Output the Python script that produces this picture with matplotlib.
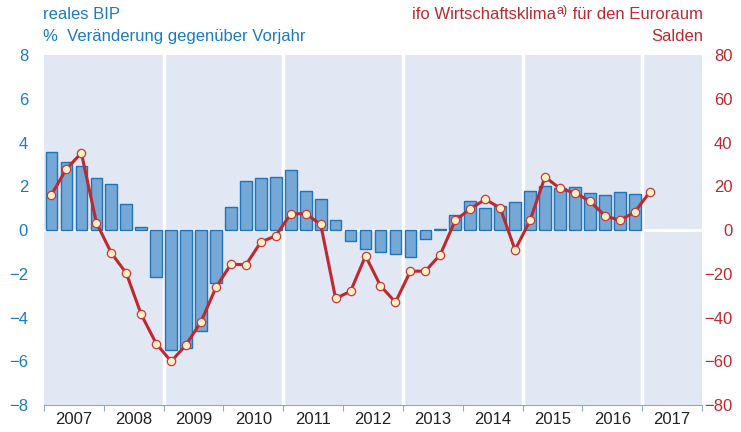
import matplotlib.pyplot as plt
import numpy as np

plt.rcParams['font.family'] = ['Liberation Sans', 'DejaVu Sans']

# reales BIP, % ggü. Vorjahr, Quartale 2007Q1 - 2016Q4
bip = [3.55, 3.13, 2.95, 2.4, 2.12, 1.17, 0.15, -2.14,
       -5.5, -5.4, -4.6, -2.4, 1.05, 2.25, 2.37, 2.42,
       2.75, 1.77, 1.4, 0.47, -0.51, -0.85, -1.02, -1.1,
       -1.21, -0.43, 0.07, 0.71, 1.33, 1.03, 1.08, 1.3,
       1.8, 2.0, 1.93, 1.99, 1.68, 1.62, 1.76, 1.65]

# ifo Wirtschaftsklima Euroraum, Salden, 2007Q1 - 2017Q1
ifo = [16.2, 28, 35.2, 3.4, -10.5, -19.7, -38.6, -51.9,
       -60.1, -52.5, -41.9, -26.2, -15.6, -15.9, -5.5, -2.6,
       7.4, 7.5, 2.6, -31.3, -28, -11.8, -25.5, -33,
       -18.8, -18.8, -11.2, 4.4, 9.7, 14, 10.2, -9.1,
       4.4, 24.3, 19, 17, 13.2, 6.6, 4.4, 8.2, 17.3]

years = [str(y) for y in range(2007, 2018)]

blue = '#1a7bc4'
red = '#c0282e'
bg = '#e1e8f4'
fs = 12

fig = plt.figure(figsize=(7.41, 4.32), dpi=100)
ax = fig.add_axes([0.0594, 0.0625, 0.888, 0.81])
ax.set_facecolor(bg)

xb = np.arange(len(bip)) + 0.5
ax.bar(xb, bip, width=0.78, color='#76a8d6', edgecolor='#1f74bb', linewidth=1.0, zorder=2)

ax.axhline(0, color='white', lw=2, zorder=1)
for xv in range(8, 45, 8):
    ax.axvline(xv, color='white', lw=2.5, zorder=1)

ax.set_xlim(0, 44)
ax.set_ylim(-8, 8)
ax.set_yticks(range(-8, 9, 2))
ax.tick_params(axis='y', length=0, colors=blue, labelsize=fs, pad=11.5)

ax.set_xticks(range(0, 45, 4))
ax.set_xticklabels([])
ax.set_xticks(np.arange(2, 44, 4), minor=True)
ax.set_xticklabels(years, minor=True)
ax.tick_params(axis='x', which='major', direction='out', length=4, color='#8fa9cc')
ax.tick_params(axis='x', which='minor', length=0, labelsize=fs, colors='#222222', pad=5)

for s in ['top', 'left', 'right']:
    ax.spines[s].set_visible(False)
ax.spines['bottom'].set_color('#8fa9cc')

ax2 = ax.twinx()
xl = np.arange(len(ifo)) + 0.5
ax2.plot(xl, ifo, color=red, lw=2.2, marker='o', markersize=6,
         markerfacecolor='#fdf0c4', markeredgecolor='#c8383c', markeredgewidth=0.9, zorder=3)
ax2.set_ylim(-80, 80)
ax2.set_yticks(range(-80, 81, 20))
ax2.tick_params(axis='y', length=0, colors=red, labelsize=fs, pad=22)
for lab in ax2.get_yticklabels():
    lab.set_horizontalalignment('right')
for s in ['top', 'left', 'right', 'bottom']:
    ax2.spines[s].set_visible(False)

fig.text(0.058, 0.967, 'reales BIP', color=blue, fontsize=fs, va='center')
fig.text(0.058, 0.916, '%  Veränderung gegenüber Vorjahr', color=blue, fontsize=fs, va='center')

# rechter Titel mit hochgestelltem a)
t3 = fig.text(0.949, 0.967, ' für den Euroraum', color=red, fontsize=fs, va='center', ha='right')
t2 = ax.annotate('a)', xy=(0, 1), xycoords=t3, xytext=(-0.5, 1.5), textcoords='offset points',
                 ha='right', va='top', fontsize=9, color=red, annotation_clip=False)
ax.annotate('ifo Wirtschaftsklima', xy=(0, 0.5), xycoords=(t2, t3), xytext=(-0.5, 0),
            textcoords='offset points', ha='right', va='center', fontsize=fs, color=red,
            annotation_clip=False)
fig.text(0.949, 0.916, 'Salden', color=red, fontsize=fs, va='center', ha='right')

fig.savefig('out.png', dpi=100)
